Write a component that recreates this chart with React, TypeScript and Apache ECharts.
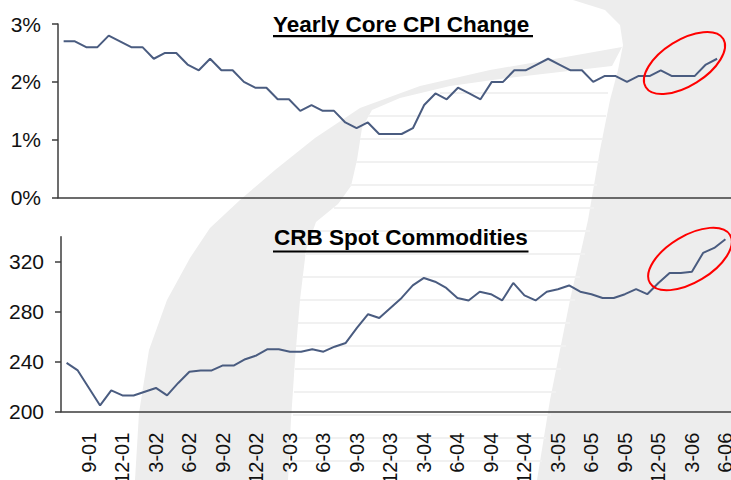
import React, { useEffect, useRef } from "react";
import * as echarts from "echarts";

const months: string[] = [
  "7-01", "8-01", "9-01", "10-01", "11-01", "12-01",
  "1-02", "2-02", "3-02", "4-02", "5-02", "6-02", "7-02", "8-02", "9-02", "10-02", "11-02", "12-02",
  "1-03", "2-03", "3-03", "4-03", "5-03", "6-03", "7-03", "8-03", "9-03", "10-03", "11-03", "12-03",
  "1-04", "2-04", "3-04", "4-04", "5-04", "6-04", "7-04", "8-04", "9-04", "10-04", "11-04", "12-04",
  "1-05", "2-05", "3-05", "4-05", "5-05", "6-05", "7-05", "8-05", "9-05", "10-05", "11-05", "12-05",
  "1-06", "2-06", "3-06", "4-06", "5-06", "6-06",
];

// Yearly core CPI change, % (7-01 .. 5-06)
const cpiValues: number[] = [
  2.7, 2.7, 2.6, 2.6, 2.8, 2.7, 2.6, 2.6, 2.4, 2.5, 2.5, 2.3,
  2.2, 2.4, 2.2, 2.2, 2.0, 1.9, 1.9, 1.7, 1.7, 1.5, 1.6, 1.5,
  1.5, 1.3, 1.2, 1.3, 1.1, 1.1, 1.1, 1.2, 1.6, 1.8, 1.7, 1.9,
  1.8, 1.7, 2.0, 2.0, 2.2, 2.2, 2.3, 2.4, 2.3, 2.2, 2.2, 2.0,
  2.1, 2.1, 2.0, 2.1, 2.1, 2.2, 2.1, 2.1, 2.1, 2.3, 2.4,
];

// CRB spot commodities index (7-01 .. 6-06)
const crbValues: number[] = [
  239, 233, 219, 205, 217, 213, 213, 216, 219, 213, 223, 232,
  233, 233, 237, 237, 242, 245, 250, 250, 248, 248, 250, 248,
  252, 255, 267, 278, 275, 283, 291, 301, 307, 304, 299, 291,
  289, 296, 294, 289, 303, 293, 289, 296, 298, 301, 296, 294,
  291, 291, 294, 298, 294, 303, 311, 311, 312, 327, 331, 338,
];

const cpiTicks: number[] = [0, 1, 2, 3];
const crbTicks: number[] = [200, 240, 280, 320];

const titles: string[] = ["Yearly Core CPI Change", "CRB Spot Commodities"];

const FONT = "'Liberation Sans', Arial, Helvetica, sans-serif";
const AXIS = "#3c3c3c";
const LINE = "#4a5c80";
const WM = "#ededed";

export default function App() {
  const ref = useRef<HTMLDivElement>(null);

  useEffect(() => {
    if (!ref.current) return;
    const chart = echarts.init(ref.current, null, { renderer: "svg" });

    const tickEvery3 = (i: number) => i % 3 === 0;
    const labelEvery3 = (i: number) => i % 3 === 2;

    const stripes: any[] = [];
    const stripeRows: [number, number, number][] = [
      [93, 440, 608], [116, 368, 606], [139, 360, 603], [162, 356, 600],
      [185, 350, 597], [208, 334, 594], [231, 312, 590], [254, 306, 585],
      [277, 302, 580], [300, 300, 575], [323, 298, 570], [346, 296, 566],
      [369, 295, 561], [392, 294, 556], [415, 293, 551], [438, 292, 546],
      [461, 291, 542],
    ];
    stripeRows.forEach(([y, x1, x2]) => {
      stripes.push({
        type: "line",
        silent: true,
        z: 0,
        shape: { x1, y1: y, x2, y2: y },
        style: { stroke: "#f1f1f1", lineWidth: 2 },
      });
    });

    chart.setOption({
      animation: false,
      backgroundColor: "#ffffff",
      grid: [
        { left: 58, top: 24, right: -3, bottom: 282.3, containLabel: false, outerBoundsMode: "none" },
        { left: 61, top: 236.7, right: 0, bottom: 68.3, containLabel: false, outerBoundsMode: "none" },
      ],
      xAxis: [
        {
          type: "category",
          gridIndex: 0,
          data: months,
          boundaryGap: true,
          z: 5,
          axisLine: { lineStyle: { color: AXIS, width: 1.5 } },
          axisTick: { interval: tickEvery3, length: 6, lineStyle: { color: AXIS, width: 1.5 } },
          axisLabel: { show: false },
          splitLine: { show: false },
        },
        {
          type: "category",
          gridIndex: 1,
          data: months,
          boundaryGap: true,
          z: 5,
          axisLine: { lineStyle: { color: AXIS, width: 1.5 } },
          axisTick: { interval: tickEvery3, length: 6, lineStyle: { color: AXIS, width: 1.5 } },
          axisLabel: {
            interval: labelEvery3,
            rotate: 90,
            margin: 21,
            fontFamily: FONT,
            fontSize: 20,
            color: "#111",
          },
          splitLine: { show: false },
        },
      ],
      yAxis: [
        {
          type: "value",
          gridIndex: 0,
          min: 0,
          max: 3,
          interval: 1,
          z: 5,
          axisLine: { show: true, lineStyle: { color: AXIS, width: 1.5 } },
          axisTick: { show: true, length: 6, lineStyle: { color: AXIS, width: 1.5 } },
          axisLabel: {
            margin: 17,
            fontFamily: FONT,
            fontSize: 21,
            color: "#111",
            formatter: (v: number) => `${v}%`,
            customValues: cpiTicks,
          },
          splitLine: { show: false },
        },
        {
          type: "value",
          gridIndex: 1,
          min: 200,
          max: 340,
          interval: 40,
          z: 5,
          axisLine: { show: true, lineStyle: { color: AXIS, width: 1.5 } },
          axisTick: { show: true, length: 6, lineStyle: { color: AXIS, width: 1.5 }, customValues: crbTicks },
          axisLabel: {
            margin: 17,
            fontFamily: FONT,
            fontSize: 21,
            color: "#111",
            customValues: crbTicks,
          },
          splitLine: { show: false },
        },
      ],
      series: [
        {
          type: "line",
          xAxisIndex: 0,
          yAxisIndex: 0,
          data: cpiValues,
          z: 6,
          symbol: "none",
          lineStyle: { color: LINE, width: 2 },
        },
        {
          type: "line",
          xAxisIndex: 1,
          yAxisIndex: 1,
          data: crbValues,
          z: 6,
          symbol: "none",
          lineStyle: { color: LINE, width: 2 },
        },
      ],
      graphic: {
        elements: [
          // watermark: right gray region
          {
            type: "polygon",
            silent: true,
            z: 0,
            shape: {
              points: [
                [573, 0], [731, 0], [731, 480], [537, 480], [550, 400], [570, 300],
                [588, 220], [600, 150], [610, 100], [618, 70], [623, 45], [620, 25],
                [605, 10],
              ],
            },
            style: { fill: WM },
          },
          // watermark: curved band
          {
            type: "polygon",
            silent: true,
            z: 0,
            shape: {
              points: [
                [135, 480], [139, 413], [149, 350], [167, 300], [190, 258], [210, 228],
                [240, 200], [275, 170], [315, 138], [360, 108], [420, 86], [490, 70],
                [560, 58], [622, 47], [612, 66], [560, 72], [500, 79], [450, 86],
                [400, 98], [372, 110], [362, 128], [357, 160], [351, 186], [338, 204],
                [316, 222], [306, 250], [300, 300], [295, 360], [291, 420], [288, 480],
              ],
            },
            style: { fill: WM },
          },
          ...stripes,
          // titles
          {
            type: "text",
            z: 10,
            x: 273,
            y: 24,
            style: {
              text: titles[0],
              fontFamily: FONT,
              fontWeight: "bold",
              fontSize: 22.5,
              fill: "#000",
              verticalAlign: "middle",
              align: "left",
            },
          },
          {
            type: "line",
            z: 10,
            shape: { x1: 273, y1: 36.2, x2: 533, y2: 36.2 },
            style: { stroke: "#000", lineWidth: 2.2 },
          },
          {
            type: "text",
            z: 10,
            x: 274,
            y: 237,
            style: {
              text: titles[1],
              fontFamily: FONT,
              fontWeight: "bold",
              fontSize: 22.5,
              fill: "#000",
              verticalAlign: "middle",
              align: "left",
            },
          },
          {
            type: "line",
            z: 10,
            shape: { x1: 273, y1: 251.5, x2: 528.5, y2: 251.5 },
            style: { stroke: "#000", lineWidth: 2.2 },
          },
          // red ellipses
          {
            type: "ellipse",
            z: 10,
            x: 684.5,
            y: 63,
            rotation: (32 * Math.PI) / 180,
            shape: { cx: 0, cy: 0, rx: 45.6, ry: 22.9 },
            style: { fill: "none", stroke: "#ff0000", lineWidth: 2 },
          },
          {
            type: "ellipse",
            z: 10,
            x: 690,
            y: 259,
            rotation: (31 * Math.PI) / 180,
            shape: { cx: 0, cy: 0, rx: 46.7, ry: 23.3 },
            style: { fill: "none", stroke: "#ff0000", lineWidth: 2 },
          },
        ],
      },
    });

    return () => chart.dispose();
  }, []);

  return (
    <div
      ref={ref}
      style={{ position: "fixed", left: 0, top: 0, width: 731, height: 480, background: "#fff" }}
    />
  );
}
